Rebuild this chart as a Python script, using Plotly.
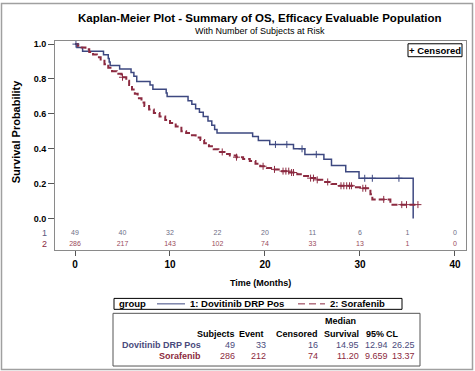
import numpy as np
import plotly.graph_objects as go

W, H = 475, 371
FONT = "Liberation Sans, Arial, sans-serif"
BLUE = "#3d4880"
RED = "#8c2a40"

# ---- data ----
blue_t = [0, 0.2, 0.8, 3.0, 3.5, 3.6, 3.7, 4.7, 5.9, 6.2, 6.5, 7.9, 8.2, 9.6, 9.7,
          11.9, 12.3, 12.7, 13.1, 13.5, 14.0, 14.4, 14.7, 14.95, 18.7, 19.3, 20.5,
          23.0, 24.2, 26.2, 27.0, 28.5, 29.9, 35.6]
blue_s = [1.0, 0.98, 0.959, 0.939, 0.918, 0.898, 0.878, 0.857, 0.837, 0.816, 0.786,
          0.765, 0.741, 0.72, 0.70, 0.675, 0.655, 0.63, 0.61, 0.585, 0.56, 0.535,
          0.51, 0.49, 0.47, 0.448, 0.425, 0.40, 0.368, 0.34, 0.305, 0.269, 0.231, 0.0]
blue_cens = [0.1, 21.1, 22.3, 23.9, 25.4, 30.5, 31.3, 34.1]

red_t = [0, 0.3, 0.7, 1.1, 1.5, 1.9, 2.3, 2.7, 3.1, 3.5, 3.9, 4.4, 4.9, 5.4, 5.7,
         6.0, 6.3, 6.6, 7.0, 7.3, 7.8, 8.3, 8.9, 9.5, 10.0, 10.6, 11.2, 11.7, 12.2,
         12.7, 13.2, 13.6, 14.1, 14.6, 15.1, 15.7, 16.3, 17.0, 17.7, 18.4, 19.0,
         19.5, 20.2, 20.9, 21.6, 22.6, 23.4, 24.0, 24.7, 25.4, 26.2, 27.0, 27.8,
         29.3, 30.0, 31.1, 31.3, 33.2, 36.1]
red_s = [1.0, 0.99, 0.98, 0.97, 0.955, 0.94, 0.925, 0.905, 0.885, 0.865, 0.845, 0.83,
         0.81, 0.79, 0.765, 0.74, 0.715, 0.69, 0.665, 0.645, 0.625, 0.605, 0.585,
         0.565, 0.548, 0.528, 0.50, 0.49, 0.478, 0.465, 0.45, 0.432, 0.415, 0.398,
         0.382, 0.37, 0.362, 0.352, 0.342, 0.33, 0.315, 0.30, 0.29, 0.282, 0.272,
         0.264, 0.254, 0.244, 0.232, 0.222, 0.21, 0.198, 0.188, 0.18, 0.174, 0.14,
         0.11, 0.08, 0.08]
red_cens = [5.0, 15.5, 17.0, 19.8, 21.0, 21.9, 22.2, 22.5, 22.8, 23.0, 24.8, 25.1,
            25.5, 26.6, 28.0, 28.3, 28.6, 28.9, 29.1, 30.3, 30.6, 32.5, 34.4, 34.9, 36.1]

risk_times = [0, 5, 10, 15, 20, 25, 30, 35, 40]
risk_blue = [49, 40, 32, 22, 20, 11, 6, 1, 0]
risk_red = [286, 217, 143, 102, 74, 33, 13, 1, 0]

x_ticks = [0, 10, 20, 30, 40]
y_ticks = [0.0, 0.2, 0.4, 0.6, 0.8, 1.0]

tbl_groups = ["Dovitinib DRP Pos", "Sorafenib"]
tbl_subjects = [49, 286]
tbl_event = [33, 212]
tbl_censored = [16, 74]
tbl_median = ["14.95", "11.20"]
tbl_lo = ["12.94", "9.659"]
tbl_hi = ["26.25", "13.37"]


def px(x):
    return x / W


def py(y):
    return 1 - y / H


def step_val(ts, ss, t):
    i = np.searchsorted(np.array(ts), t, side="right") - 1
    return ss[max(i, 0)]


fig = go.Figure()
fig.add_trace(go.Scatter(x=blue_t, y=blue_s, mode="lines", line_shape="hv",
                         line=dict(color=BLUE, width=1.5), hoverinfo="skip"))
fig.add_trace(go.Scatter(x=red_t, y=red_s, mode="lines", line_shape="hv",
                         line=dict(color=RED, width=2, dash="6px,3px"), hoverinfo="skip"))
fig.add_trace(go.Scatter(x=blue_cens, y=[step_val(blue_t, blue_s, t) for t in blue_cens],
                         mode="markers",
                         marker=dict(symbol="cross-thin", size=5, line=dict(color=BLUE, width=1)),
                         hoverinfo="skip"))
fig.add_trace(go.Scatter(x=red_cens, y=[step_val(red_t, red_s, t) for t in red_cens],
                         mode="markers",
                         marker=dict(symbol="cross-thin", size=5, line=dict(color=RED, width=1)),
                         hoverinfo="skip"))
fig.add_trace(go.Scatter(x=risk_times, y=[-0.082] * len(risk_times), mode="text",
                         text=[str(v) for v in risk_blue],
                         textfont=dict(family=FONT, size=7, color="#6e6e86"), hoverinfo="skip"))
fig.add_trace(go.Scatter(x=risk_times, y=[-0.145] * len(risk_times), mode="text",
                         text=[str(v) for v in risk_red],
                         textfont=dict(family=FONT, size=7, color="#9a4a5c"), hoverinfo="skip"))

x0 = -2.105
x1 = 41.16
fig.update_xaxes(domain=[px(55), px(466)], range=[x0, x1], tickvals=x_ticks,
                 ticktext=[f"<b>{v}</b>" for v in x_ticks],
                 tickfont=dict(family=FONT, size=10, color="black"),
                 ticks="outside", ticklen=5, tickcolor="#555",
                 showline=True, mirror=True, linecolor="#8a8a8a", linewidth=1,
                 showgrid=False, zeroline=False)
fig.update_yaxes(domain=[py(249), py(39)], range=[-0.178, 1.019], tickvals=y_ticks,
                 ticktext=[f"<b>{v:.1f}</b>" for v in y_ticks],
                 tickfont=dict(family=FONT, size=9, color="black"),
                 ticks="outside", ticklen=6, tickcolor="#555",
                 showline=True, mirror=True, linecolor="#8a8a8a", linewidth=1,
                 showgrid=False, zeroline=False)

ann = []


def text(x, y, s, size=9, bold=False, color="black", xanchor="center", **kw):
    ann.append(dict(x=px(x), y=py(y), xref="paper", yref="paper",
                    text=(f"<b>{s}</b>" if bold else s), showarrow=False,
                    font=dict(family=FONT, size=size, color=color),
                    xanchor=xanchor, yanchor="middle", **kw))


text(260, 16, "Kaplan-Meier Plot - Summary of OS, Efficacy Evaluable Population", 11.5, True)
text(260, 29, "With Number of Subjects at Risk", 9)
text(16, 130, "Survival Probability", 11, True, textangle=-90)
text(260, 283, "Time (Months)", 9, True)
text(44, 232, "1", 9, False, "#5a5a80")
text(44, 243, "2", 9, False, RED)
text(435, 48.5, "+ Censored", 9.5, True)

# legend
text(117, 303.5, "group", 9.5, True, xanchor="left")
text(188, 303.5, "1: Dovitinib DRP Pos", 9.5, True, xanchor="left")
text(328, 303.5, "2: Sorafenib", 9.5, True, xanchor="left")

# table
cols_right = [237, 268, 320, 361, 390, 417]
text(340, 321, "Median", 9, True)
hdrs = ["Subjects", "Event", "Censored", "Survival", "95%", "CL"]
hx = [237, 266, 320, 361, 386, 401]
for h, x in zip(hdrs, hx):
    text(x, 334, h, 9, True, xanchor="right")
row_colors = ["#4a4a7c", "#8c2a40"]
row_y = [345, 356]
for i in range(2):
    c = row_colors[i]
    yy = row_y[i]
    text(203, yy, tbl_groups[i], 9, True, c, xanchor="right")
    vals = [str(tbl_subjects[i]), str(tbl_event[i]), str(tbl_censored[i]),
            tbl_median[i], tbl_lo[i], tbl_hi[i]]
    for v, x in zip(vals, cols_right):
        text(x, yy, v, 9, False, c, xanchor="right")

shapes = [
    dict(type="rect", xref="paper", yref="paper", x0=px(1.5), x1=px(472.5), y0=py(369.5), y1=py(1.5),
         line=dict(color="#a0a0a0", width=1.5)),
    dict(type="rect", xref="paper", yref="paper", x0=px(408), x1=px(462), y0=py(55), y1=py(42),
         line=dict(color="black", width=1)),
    dict(type="rect", xref="paper", yref="paper", x0=px(114), x1=px(402), y0=py(309), y1=py(298),
         line=dict(color="black", width=1)),
    dict(type="line", xref="paper", yref="paper", x0=px(157), x1=px(185), y0=py(303.5), y1=py(303.5),
         line=dict(color=BLUE, width=1)),
    dict(type="line", xref="paper", yref="paper", x0=px(298), x1=px(325), y0=py(303.5), y1=py(303.5),
         line=dict(color=RED, width=1, dash="7px,4px")),
    dict(type="rect", xref="paper", yref="paper", x0=px(113), x1=px(420), y0=py(366), y1=py(313),
         line=dict(color="#555", width=1)),
]

fig.update_layout(width=W, height=H, margin=dict(l=0, r=0, t=0, b=0),
                  paper_bgcolor="white", plot_bgcolor="white", showlegend=False,
                  annotations=ann, shapes=shapes)

fig.write_html("out.html", config={"staticPlot": True, "displayModeBar": False},
               post_script="document.body.style.margin='0px';document.body.style.overflow='hidden';")
